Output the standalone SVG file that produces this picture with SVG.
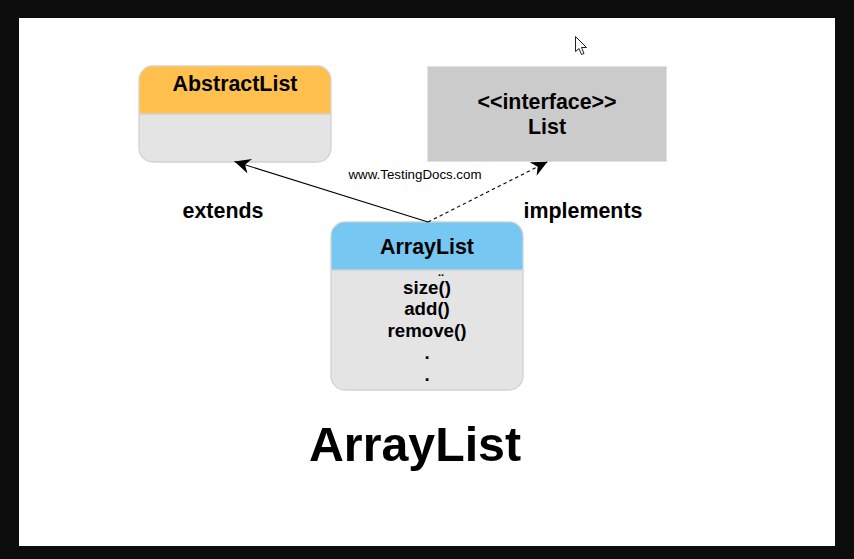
<svg xmlns="http://www.w3.org/2000/svg" width="854" height="559" viewBox="0 0 854 559">
<style>
text{font-family:"Liberation Sans",Arial,sans-serif;font-weight:bold;fill:#000;text-anchor:middle}
.t{font-size:21.4px}
.m{font-size:18.7px}
.body{fill:#e4e4e4;stroke:#d2d2d2;stroke-width:1.3}
.head{stroke:none}
.sep{stroke:#d2d2d2;stroke-width:1.3}
.c{fill:none;stroke:#000;stroke-width:1.1}
</style>
<defs>
<marker id="arrow" markerUnits="userSpaceOnUse" markerWidth="18" markerHeight="17" refX="16" refY="8" orient="auto"><path d="M0 0.500L16 8L0 15.500L5 8Z" fill="#000"/></marker>
</defs>
<rect width="854" height="559" fill="#0c0c0c"/>
<rect x="19" y="18" width="816" height="528" fill="#fff"/>
<g id="abstractlist">
<rect class="body" x="139" y="66" width="192" height="96" rx="14"/>
<path class="head" fill="#ffc04d" d="M139.600 114V80A13.400 13.400 0 0 1 153 66.600H317A13.400 13.400 0 0 1 330.400 80V114Z"/>
<path class="sep" d="M139 114H331"/>
<text class="t" x="235" y="91">AbstractList</text>
</g>
<g id="list">
<rect x="427.500" y="66.500" width="239" height="95" fill="#cbcbcb" stroke="#e2e2e2"/>
<text class="t" x="547" y="109">&lt;&lt;interface&gt;&gt;</text>
<text class="t" x="547" y="134">List</text>
</g>
<g id="arraylist">
<rect class="body" x="331" y="222" width="192" height="168" rx="14"/>
<path class="head" fill="#76c7f1" d="M331.600 270V236A13.400 13.400 0 0 1 345 222.600H509A13.400 13.400 0 0 1 522.400 236V270Z"/>
<path class="sep" d="M331 270H523"/>
<text class="t" x="427" y="254">ArrayList</text>
<text x="441" y="276" font-size="11px">..</text>
<text class="m" x="427" y="294">size()</text>
<text class="m" x="427" y="315">add()</text>
<text class="m" x="427" y="337">remove()</text>
<text class="m" x="427" y="359">.</text>
<text class="m" x="427" y="381">.</text>
</g>
<g id="connectors">
<path class="c" d="M428 222L234.500 161.500" marker-end="url(#arrow)"/>
<path class="c" d="M428 222L547.500 161.800" stroke-dasharray="3.500 3" marker-end="url(#arrow)"/>
</g>
<text class="t" x="223" y="218">extends</text>
<text class="t" x="583" y="218">implements</text>
<text x="415" y="179" font-size="13.300px" style="font-weight:normal">www.TestingDocs.com</text>
<text x="415" y="461" font-size="48.300px">ArrayList</text>
<path id="cursor" d="M575.500 36.500V51.500L579 48.500L581.500 54.500L584 53.500L581.500 47.500H586.500Z" fill="#fff" stroke="#222" stroke-width="1"/>
</svg>
